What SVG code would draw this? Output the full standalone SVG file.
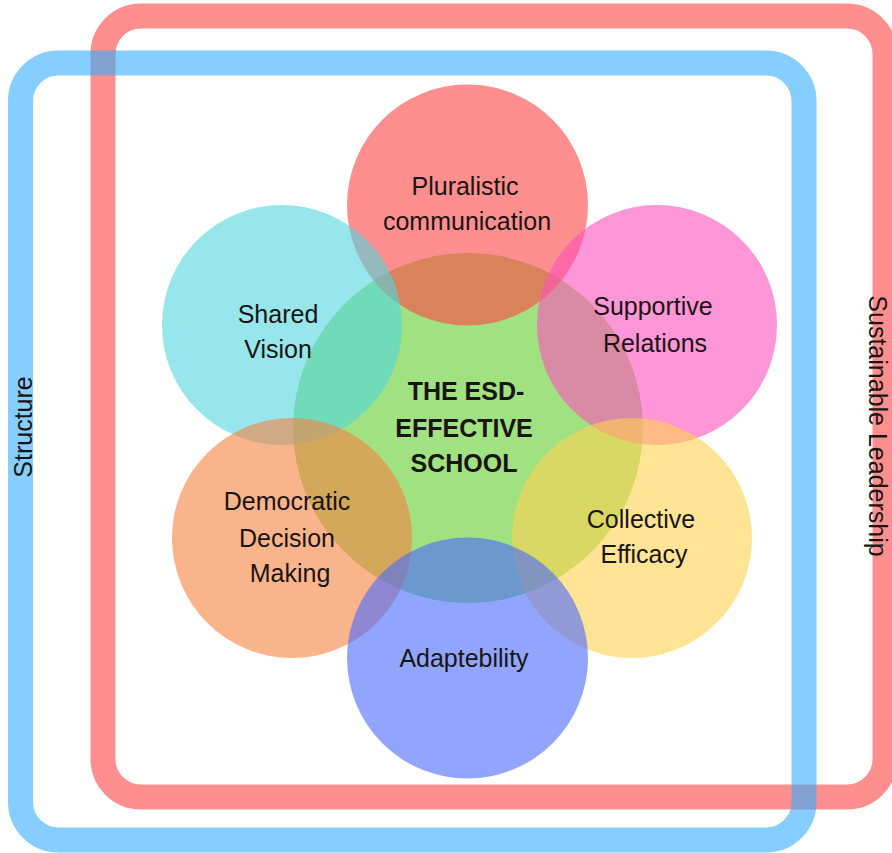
<svg xmlns="http://www.w3.org/2000/svg" width="892" height="853" viewBox="0 0 892 853">
<style>
.lbl{font-family:"Liberation Sans",Arial,sans-serif;font-size:25px;fill:#1a1414;text-anchor:middle}
.bold{font-weight:bold}
.c{fill-opacity:0.6}
</style>
<rect width="892" height="853" fill="#ffffff"/>
<g id="frames">
<g id="sustainable-leadership">
<rect x="103" y="16" width="782" height="781" rx="38" fill="none" stroke="#ff8f8f" stroke-width="25"/>
<text class="lbl" transform="translate(869,426) rotate(90)">Sustainable Leadership</text>
</g>
<g id="structure">
<rect x="20.5" y="63" width="783.5" height="777" rx="38" fill="none" stroke="#34adff" stroke-opacity="0.6" stroke-width="25"/>
<text class="lbl" transform="translate(32,427) rotate(-90)">Structure</text>
</g>
</g>
<g id="connectors"/>
<g id="center">
<circle class="c" cx="468" cy="428" r="175" fill="#61cd2f"/>
</g>
<g id="pluralistic">
<circle class="c" cx="467.5" cy="205" r="120.5" fill="#ff4444"/>
<text class="lbl" x="465" y="195">Pluralistic</text>
<text class="lbl" x="467" y="230">communication</text>
</g>
<g id="shared-vision">
<circle class="c" cx="282" cy="325" r="120" fill="#50d5de"/>
<text class="lbl" x="278" y="323">Shared</text>
<text class="lbl" x="278" y="358">Vision</text>
</g>
<g id="supportive">
<circle class="c" cx="657" cy="325" r="120" fill="#ff50bc"/>
<text class="lbl" x="653" y="315">Supportive</text>
<text class="lbl" x="655" y="352">Relations</text>
</g>
<g id="democratic">
<circle class="c" cx="292" cy="538" r="120" fill="#f7823f"/>
<text class="lbl" x="287" y="510">Democratic</text>
<text class="lbl" x="287" y="547">Decision</text>
<text class="lbl" x="290" y="582">Making</text>
</g>
<g id="collective">
<circle class="c" cx="632" cy="538" r="120" fill="#ffd250"/>
<text class="lbl" x="641" y="528">Collective</text>
<text class="lbl" x="644" y="563">Efficacy</text>
</g>
<g id="adaptebility">
<circle class="c" cx="467.5" cy="658" r="120.5" fill="#4869ff"/>
<text class="lbl" x="464" y="667">Adaptebility</text>
</g>
<g id="center-label">
<text class="lbl bold" x="466" y="400">THE ESD-</text>
<text class="lbl bold" x="464" y="437">EFFECTIVE</text>
<text class="lbl bold" x="464" y="472">SCHOOL</text>
</g>
</svg>
